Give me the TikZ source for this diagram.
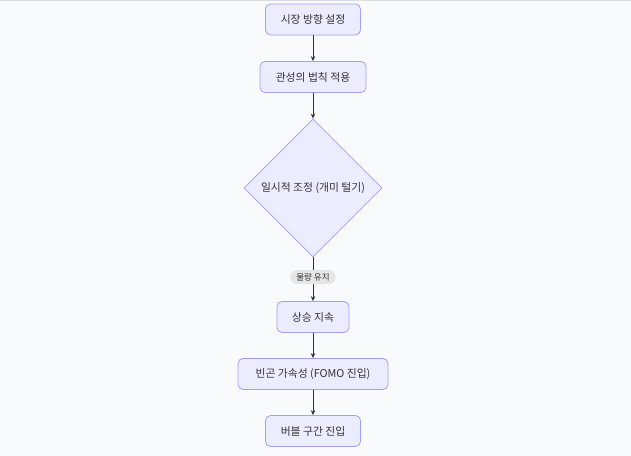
\documentclass[tikz,border=0pt]{standalone}
\usepackage{fontspec}
\setmainfont{Noto Sans CJK KR}
\usetikzlibrary{shapes.geometric,arrows.meta}
\definecolor{nodefill}{HTML}{ECECFF}
\definecolor{nodeline}{HTML}{A0A0F8}
\definecolor{textcol}{HTML}{333333}
\definecolor{bgcol}{HTML}{F9FAFB}
\definecolor{topline}{HTML}{DDDDDD}
\definecolor{lblbg}{HTML}{E6E6E6}
\begin{document}
\begin{tikzpicture}[x=1bp,y=-1bp,
  box/.style={draw=nodeline, fill=nodefill, rounded corners=5bp, line width=0.8bp,
    text=textcol, font=\fontsize{10.8bp}{12bp}\selectfont, minimum height=31bp, inner xsep=0bp},
  dia/.style={draw=nodeline, fill=nodefill, diamond, line width=0.8bp, text=textcol,
    font=\fontsize{10.8bp}{12bp}\selectfont, minimum width=138bp, minimum height=138bp, inner sep=0bp},
  conn/.style={draw=textcol, line width=0.9bp, -{Stealth[length=5bp,width=4.5bp]}},
  lbl/.style={fill=lblbg, rounded corners=6.5bp, text=textcol, font=\fontsize{8.5bp}{9bp}\selectfont,
    inner xsep=6bp, inner ysep=2bp, minimum height=14bp}
]
\useasboundingbox (0,0) rectangle (631,456);
\fill[bgcol] (0,0) rectangle (631,456);
\draw[topline, line width=1.2bp] (0,0.6) -- (631,0.6);

\node[box, minimum width=95bp] (a) at (313,19.5) {시장 방향 설정};
\node[box, minimum width=106bp] (b) at (313,77) {관성의 법칙 적용};
\node[dia] (c) at (313,188) {일시적 조정 (개미 털기)};
\node[box, minimum width=72bp] (d) at (313,317) {상승 지속};
\node[box, minimum width=150bp] (e) at (313,374) {빈곤 가속성 (FOMO 진입)};
\node[box, minimum width=95bp] (f) at (313,431) {버블 구간 진입};

\draw[conn] (a) -- (b);
\draw[conn] (b) -- (c);
\draw[conn] (c) -- (d) node[lbl, pos=0.45] (l) {물량 유지};
\draw[conn] (d) -- (e);
\draw[conn] (e) -- (f);
\end{tikzpicture}
\end{document}
